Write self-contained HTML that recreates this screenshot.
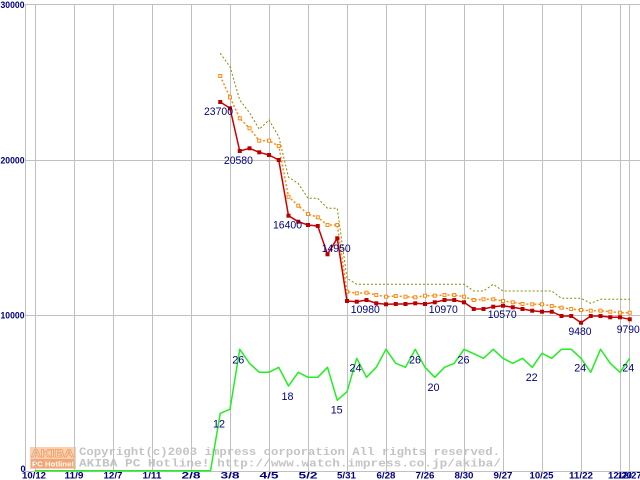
<!DOCTYPE html>
<html><head><meta charset="utf-8"><style>
html,body{margin:0;padding:0;background:#fff;overflow:hidden;}
svg{display:block;}
.ax{font-family:"Liberation Sans",sans-serif;font-weight:bold;font-size:9px;fill:#000080;}
.dl{font-family:"Liberation Sans",sans-serif;font-size:11px;fill:#000080;}
.wm{font-family:"Liberation Mono",monospace;font-weight:bold;font-size:11px;fill:#c4c4c4;}
</style></head><body>
<svg width="640" height="480" viewBox="0 0 640 480" xmlns="http://www.w3.org/2000/svg">
<rect width="640" height="480" fill="#fff"/>

<!-- watermark logo -->
<g>
<rect x="30" y="447" width="46" height="11" fill="#fbd0ae"/>
<text x="31" y="457" font-family="Liberation Sans,sans-serif" font-weight="bold" font-size="11" fill="#fde6d2" stroke="#f29a5e" stroke-width="0.7" textLength="43" lengthAdjust="spacingAndGlyphs">AKIBA</text>
<rect x="30" y="458" width="46" height="11" fill="#fbd0ae"/>
<rect x="31" y="459" width="44" height="9" fill="#f5a574"/>
<text x="32" y="466.5" font-family="Liberation Sans,sans-serif" font-weight="bold" font-size="7.5" fill="#ffffff" textLength="42" lengthAdjust="spacingAndGlyphs">PC Hotline!</text>
</g>
<text class="wm" x="79" y="455" textLength="421" lengthAdjust="spacingAndGlyphs">Copyright(c)2003 impress corporation All rights reserved.</text>
<text class="wm" x="79" y="466.7" textLength="422" lengthAdjust="spacingAndGlyphs">AKIBA PC Hotline! http://www.watch.impress.co.jp/akiba/</text>

<!-- grid -->
<g stroke="#c0c0c0" stroke-width="1" shape-rendering="crispEdges" fill="none">
<line x1="25" y1="4.5" x2="640" y2="4.5"/>
<line x1="25" y1="160.5" x2="640" y2="160.5"/>
<line x1="25" y1="315.5" x2="640" y2="315.5"/>
<line x1="25" y1="471.5" x2="640" y2="471.5"/>
<line x1="25.5" y1="4" x2="25.5" y2="472"/>
<line x1="35.5" y1="4" x2="35.5" y2="472"/>
<line x1="74.5" y1="4" x2="74.5" y2="472"/>
<line x1="113.5" y1="4" x2="113.5" y2="472"/>
<line x1="152.5" y1="4" x2="152.5" y2="472"/>
<line x1="191.5" y1="4" x2="191.5" y2="472"/>
<line x1="230.5" y1="4" x2="230.5" y2="472"/>
<line x1="269.5" y1="4" x2="269.5" y2="472"/>
<line x1="308.5" y1="4" x2="308.5" y2="472"/>
<line x1="347.5" y1="4" x2="347.5" y2="472"/>
<line x1="386.5" y1="4" x2="386.5" y2="472"/>
<line x1="425.5" y1="4" x2="425.5" y2="472"/>
<line x1="464.5" y1="4" x2="464.5" y2="472"/>
<line x1="503.5" y1="4" x2="503.5" y2="472"/>
<line x1="542.5" y1="4" x2="542.5" y2="472"/>
<line x1="581.5" y1="4" x2="581.5" y2="472"/>
<line x1="620.5" y1="4" x2="620.5" y2="472"/>
<line x1="629.5" y1="4" x2="629.5" y2="472"/>
</g>

<!-- y axis labels -->
<text class="ax" x="0.5" y="7.8" textLength="24" lengthAdjust="spacingAndGlyphs">30000</text>
<text class="ax" x="0.5" y="163.5" textLength="24" lengthAdjust="spacingAndGlyphs">20000</text>
<text class="ax" x="0.5" y="318.3" textLength="24" lengthAdjust="spacingAndGlyphs">10000</text>
<text class="ax" x="20.5" y="472">0</text>

<!-- x axis labels -->
<g class="ax" text-anchor="middle">
<text x="34" y="478.3" textLength="24" lengthAdjust="spacingAndGlyphs">10/12</text>
<text x="74" y="478.3" textLength="19" lengthAdjust="spacingAndGlyphs">11/9</text>
<text x="113" y="478.3" textLength="19" lengthAdjust="spacingAndGlyphs">12/7</text>
<text x="152" y="478.3" textLength="19" lengthAdjust="spacingAndGlyphs">1/11</text>
<text x="191" y="478.3" textLength="19" lengthAdjust="spacingAndGlyphs">2/8</text>
<text x="230" y="478.3" textLength="19" lengthAdjust="spacingAndGlyphs">3/8</text>
<text x="269" y="478.3" textLength="19" lengthAdjust="spacingAndGlyphs">4/5</text>
<text x="308" y="478.3" textLength="19" lengthAdjust="spacingAndGlyphs">5/2</text>
<text x="346.5" y="478.3" textLength="19" lengthAdjust="spacingAndGlyphs">5/31</text>
<text x="386" y="478.3" textLength="19" lengthAdjust="spacingAndGlyphs">6/28</text>
<text x="425" y="478.3" textLength="19" lengthAdjust="spacingAndGlyphs">7/26</text>
<text x="464" y="478.3" textLength="19" lengthAdjust="spacingAndGlyphs">8/30</text>
<text x="503" y="478.3" textLength="19" lengthAdjust="spacingAndGlyphs">9/27</text>
<text x="541.5" y="478.3" textLength="24" lengthAdjust="spacingAndGlyphs">10/25</text>
<text x="581" y="478.3" textLength="24" lengthAdjust="spacingAndGlyphs">11/22</text>
<text x="620" y="478.3" textLength="24" lengthAdjust="spacingAndGlyphs">12/20</text>
<text x="629.75" y="478.3" textLength="24" lengthAdjust="spacingAndGlyphs">12/27</text>
</g>

<!-- olive dotted series -->
<polyline fill="none" stroke="#8a8a00" stroke-width="1" stroke-dasharray="2,2" points="220.25,53.3 230,66.7 239.75,100 249.5,112.7 259.25,129.3 269,120 278.75,136.7 288.5,177 298.25,183.5 308,198.3 317.75,198.3 327.5,208.3 337.25,208.3 347,278.3 356.75,284.3 366.5,284.3 376.25,284.3 386,284.3 395.75,284.3 405.5,284.3 415.25,284.3 425,284.3 434.75,284.3 444.5,284.3 454.25,284.3 464,284.3 473.75,291 483.5,291 493.25,284.3 503,291 512.75,291 522.5,291 532.25,291 542,291 551.75,291 561.5,298.3 571.25,298.3 581,298.3 590.75,303.3 600.5,299.3 610.25,299.3 620,299.3 629.75,299.3"/>

<!-- orange dotted series -->
<polyline fill="none" stroke="#ff8a10" stroke-width="1.5" stroke-dasharray="2,2" points="220.25,76 230,97.3 239.75,118.3 249.5,128.3 259.25,140.7 269,140.7 278.75,146 288.5,196.7 298.25,205.7 308,214 317.75,217.3 327.5,225 337.25,225 347,291.7 356.75,293.3 366.5,292.7 376.25,295 386,296.7 395.75,296 405.5,296.7 415.25,297.3 425,295.7 434.75,295.7 444.5,295 454.25,295 464,296.7 473.75,300 483.5,299.3 493.25,299.3 503,301 512.75,302.3 522.5,304 532.25,304.3 542,304.3 551.75,306 561.5,307.7 571.25,309 581,310 590.75,310.7 600.5,310.7 610.25,311.7 620,312.7 629.75,312.7"/>
<g fill="#fff" stroke="#ff8a10" stroke-width="1">
<rect x="218.75" y="74.5" width="3" height="3"/><rect x="228.5" y="95.8" width="3" height="3"/><rect x="238.25" y="116.8" width="3" height="3"/><rect x="248" y="126.8" width="3" height="3"/><rect x="257.75" y="139.2" width="3" height="3"/><rect x="267.5" y="139.2" width="3" height="3"/><rect x="277.25" y="144.5" width="3" height="3"/><rect x="287" y="195.2" width="3" height="3"/><rect x="296.75" y="204.2" width="3" height="3"/><rect x="306.5" y="212.5" width="3" height="3"/><rect x="316.25" y="215.8" width="3" height="3"/><rect x="326" y="223.5" width="3" height="3"/><rect x="335.75" y="223.5" width="3" height="3"/><rect x="345.5" y="290.2" width="3" height="3"/><rect x="355.25" y="291.8" width="3" height="3"/><rect x="365" y="291.2" width="3" height="3"/><rect x="374.75" y="293.5" width="3" height="3"/><rect x="384.5" y="295.2" width="3" height="3"/><rect x="394.25" y="294.5" width="3" height="3"/><rect x="404" y="295.2" width="3" height="3"/><rect x="413.75" y="295.8" width="3" height="3"/><rect x="423.5" y="294.2" width="3" height="3"/><rect x="433.25" y="294.2" width="3" height="3"/><rect x="443" y="293.5" width="3" height="3"/><rect x="452.75" y="293.5" width="3" height="3"/><rect x="462.5" y="295.2" width="3" height="3"/><rect x="472.25" y="298.5" width="3" height="3"/><rect x="482" y="297.8" width="3" height="3"/><rect x="491.75" y="297.8" width="3" height="3"/><rect x="501.5" y="299.5" width="3" height="3"/><rect x="511.25" y="300.8" width="3" height="3"/><rect x="521" y="302.5" width="3" height="3"/><rect x="530.75" y="302.8" width="3" height="3"/><rect x="540.5" y="302.8" width="3" height="3"/><rect x="550.25" y="304.5" width="3" height="3"/><rect x="560" y="306.2" width="3" height="3"/><rect x="569.75" y="307.5" width="3" height="3"/><rect x="579.5" y="308.5" width="3" height="3"/><rect x="589.25" y="309.2" width="3" height="3"/><rect x="599" y="309.2" width="3" height="3"/><rect x="608.75" y="310.2" width="3" height="3"/><rect x="618.5" y="311.2" width="3" height="3"/><rect x="628.25" y="311.2" width="3" height="3"/>
</g>

<!-- red series -->
<polyline fill="none" stroke="#cc0000" stroke-width="1.5" stroke-linejoin="round" points="220.25,102 230,108.3 239.75,151 249.5,148.3 259.25,152.3 269,155 278.75,160 288.5,215.7 298.25,221.7 308,225 317.75,226 327.5,254.3 337.25,238.3 347,301 356.75,301.7 366.5,300 376.25,303.3 386,304.3 395.75,304 405.5,304 415.25,303.3 425,304 434.75,302.3 444.5,300 454.25,300 464,302.3 473.75,309 483.5,309 493.25,306.7 503,305.7 512.75,307.3 522.5,309 532.25,310.7 542,311.7 551.75,311.7 561.5,316 571.25,316 581,322.7 590.75,316 600.5,316 610.25,317.3 620,317.3 629.75,319.3"/>
<g fill="#b80000">
<rect x="218.25" y="100" width="4" height="4"/><rect x="228" y="106.3" width="4" height="4"/><rect x="237.75" y="149" width="4" height="4"/><rect x="247.5" y="146.3" width="4" height="4"/><rect x="257.25" y="150.3" width="4" height="4"/><rect x="267" y="153" width="4" height="4"/><rect x="276.75" y="158" width="4" height="4"/><rect x="286.5" y="213.7" width="4" height="4"/><rect x="296.25" y="219.7" width="4" height="4"/><rect x="306" y="223" width="4" height="4"/><rect x="315.75" y="224" width="4" height="4"/><rect x="325.5" y="252.3" width="4" height="4"/><rect x="335.25" y="236.3" width="4" height="4"/><rect x="345" y="299" width="4" height="4"/><rect x="354.75" y="299.7" width="4" height="4"/><rect x="364.5" y="298" width="4" height="4"/><rect x="374.25" y="301.3" width="4" height="4"/><rect x="384" y="302.3" width="4" height="4"/><rect x="393.75" y="302" width="4" height="4"/><rect x="403.5" y="302" width="4" height="4"/><rect x="413.25" y="301.3" width="4" height="4"/><rect x="423" y="302" width="4" height="4"/><rect x="432.75" y="300.3" width="4" height="4"/><rect x="442.5" y="298" width="4" height="4"/><rect x="452.25" y="298" width="4" height="4"/><rect x="462" y="300.3" width="4" height="4"/><rect x="471.75" y="307" width="4" height="4"/><rect x="481.5" y="307" width="4" height="4"/><rect x="491.25" y="304.7" width="4" height="4"/><rect x="501" y="303.7" width="4" height="4"/><rect x="510.75" y="305.3" width="4" height="4"/><rect x="520.5" y="307" width="4" height="4"/><rect x="530.25" y="308.7" width="4" height="4"/><rect x="540" y="309.7" width="4" height="4"/><rect x="549.75" y="309.7" width="4" height="4"/><rect x="559.5" y="314" width="4" height="4"/><rect x="569.25" y="314" width="4" height="4"/><rect x="579" y="320.7" width="4" height="4"/><rect x="588.75" y="314" width="4" height="4"/><rect x="598.5" y="314" width="4" height="4"/><rect x="608.25" y="315.3" width="4" height="4"/><rect x="618" y="315.3" width="4" height="4"/><rect x="627.75" y="317.3" width="4" height="4"/>
</g>

<!-- green series -->
<polyline fill="none" stroke="#22ee22" stroke-width="1.5" stroke-linejoin="round" points="35,470.7 210.5,470.7 220.25,413.3 230,409.3 239.75,349.3 249.5,363.3 259.25,372.3 269,372.3 278.75,367.3 288.5,386 298.25,372.3 308,377.3 317.75,377.3 327.5,367.3 337.25,400.3 347,391.7 356.75,358.3 366.5,377.3 376.25,367.3 386,349.3 395.75,363.3 405.5,367.3 415.25,349.3 425,367.3 434.75,377.3 444.5,367.3 454.25,363.3 464,349.3 473.75,353.7 483.5,358.3 493.25,349.3 503,358.3 512.75,363.3 522.5,358.3 532.25,367.3 542,353.3 551.75,358.3 561.5,349.3 571.25,349.3 581,358.3 590.75,372.3 600.5,349.3 610.25,363.3 620,372.3 629.75,358.3"/>

<!-- red labels -->
<g class="dl" text-anchor="middle">
<text x="218.5" y="115" textLength="29" lengthAdjust="spacingAndGlyphs">23700</text>
<text x="238.4" y="164" textLength="29" lengthAdjust="spacingAndGlyphs">20580</text>
<text x="287.5" y="228.7" textLength="29" lengthAdjust="spacingAndGlyphs">16400</text>
<text x="336.2" y="252" textLength="29" lengthAdjust="spacingAndGlyphs">14950</text>
<text x="365.3" y="313" textLength="29" lengthAdjust="spacingAndGlyphs">10980</text>
<text x="443.3" y="313" textLength="29" lengthAdjust="spacingAndGlyphs">10970</text>
<text x="502.2" y="318" textLength="29" lengthAdjust="spacingAndGlyphs">10570</text>
<text x="580" y="335" textLength="23" lengthAdjust="spacingAndGlyphs">9480</text>
<text x="628.3" y="333" textLength="23" lengthAdjust="spacingAndGlyphs">9790</text>
</g>

<!-- green labels -->
<g class="dl" text-anchor="middle">
<text x="219" y="427.7" textLength="12" lengthAdjust="spacingAndGlyphs">12</text>
<text x="238.3" y="363.3" textLength="12" lengthAdjust="spacingAndGlyphs">26</text>
<text x="287.5" y="400" textLength="12" lengthAdjust="spacingAndGlyphs">18</text>
<text x="336.7" y="413.3" textLength="12" lengthAdjust="spacingAndGlyphs">15</text>
<text x="355.5" y="371.7" textLength="12" lengthAdjust="spacingAndGlyphs">24</text>
<text x="415" y="363.3" textLength="12" lengthAdjust="spacingAndGlyphs">26</text>
<text x="433.5" y="391" textLength="12" lengthAdjust="spacingAndGlyphs">20</text>
<text x="463.5" y="363.3" textLength="12" lengthAdjust="spacingAndGlyphs">26</text>
<text x="531.7" y="381" textLength="12" lengthAdjust="spacingAndGlyphs">22</text>
<text x="580.2" y="371.7" textLength="12" lengthAdjust="spacingAndGlyphs">24</text>
<text x="628.3" y="371.7" textLength="12" lengthAdjust="spacingAndGlyphs">24</text>
</g>
</svg>
</body></html>
